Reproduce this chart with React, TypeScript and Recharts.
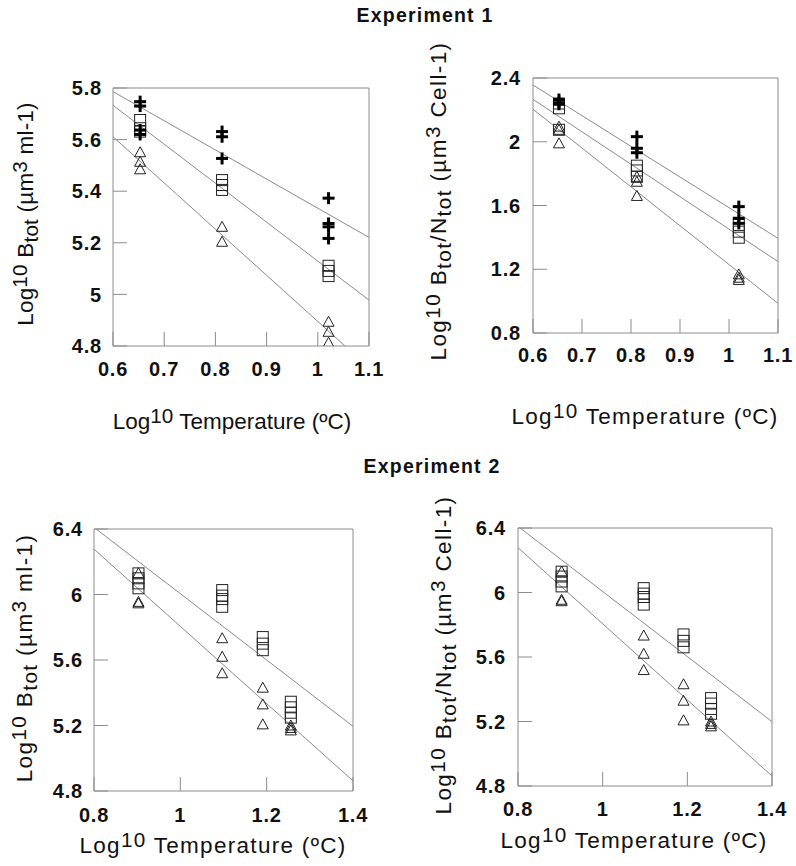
import React from 'react';
import { ScatterChart, Scatter, XAxis, YAxis, ReferenceLine } from 'recharts';

const FONT = '"Liberation Sans", Arial, Helvetica, sans-serif';

// ---------------- DATA ----------------
// Experiment 1 - biomass (log10 Btot)
const exp1BiomassPlus = [
  { x: 0.653, y: 5.747 }, { x: 0.653, y: 5.73 }, { x: 0.653, y: 5.637 }, { x: 0.653, y: 5.62 },
  { x: 0.813, y: 5.631 }, { x: 0.813, y: 5.611 }, { x: 0.813, y: 5.527 },
  { x: 1.021, y: 5.373 }, { x: 1.021, y: 5.275 }, { x: 1.021, y: 5.262 }, { x: 1.021, y: 5.217 },
];
const exp1BiomassSquare = [
  { x: 0.653, y: 5.676 }, { x: 0.653, y: 5.644 }, { x: 0.653, y: 5.631 },
  { x: 0.813, y: 5.443 }, { x: 0.813, y: 5.424 }, { x: 0.813, y: 5.405 },
  { x: 1.021, y: 5.111 }, { x: 1.021, y: 5.091 }, { x: 1.021, y: 5.071 },
];
const exp1BiomassTriangle = [
  { x: 0.653, y: 5.551 }, { x: 0.653, y: 5.514 }, { x: 0.653, y: 5.485 },
  { x: 0.813, y: 5.262 }, { x: 0.813, y: 5.204 },
  { x: 1.021, y: 4.894 }, { x: 1.021, y: 4.855 }, { x: 1.021, y: 4.813 },
];
const exp1BiomassFitStart = [5.786, 5.733, 5.611]; // at x = 0.6
const exp1BiomassFitEnd = [5.221, 4.978, 4.716]; // at x = 1.1

// Experiment 1 - per cell (log10 Btot/Ntot)
const exp1CellPlus = [
  { x: 0.653, y: 2.265 }, { x: 0.653, y: 2.245 }, { x: 0.653, y: 2.235 },
  { x: 0.812, y: 2.032 }, { x: 0.812, y: 1.959 }, { x: 0.812, y: 1.931 },
  { x: 1.02, y: 1.593 }, { x: 1.02, y: 1.52 }, { x: 1.02, y: 1.488 },
];
const exp1CellSquare = [
  { x: 0.653, y: 2.24 }, { x: 0.653, y: 2.21 }, { x: 0.653, y: 2.075 },
  { x: 0.812, y: 1.85 }, { x: 0.812, y: 1.82 }, { x: 0.812, y: 1.78 },
  { x: 1.02, y: 1.478 }, { x: 1.02, y: 1.436 }, { x: 1.02, y: 1.398 },
];
const exp1CellTriangle = [
  { x: 0.653, y: 2.095 }, { x: 0.653, y: 2.075 }, { x: 0.653, y: 1.99 },
  { x: 0.812, y: 1.78 }, { x: 0.812, y: 1.749 }, { x: 0.812, y: 1.66 },
  { x: 1.02, y: 1.168 }, { x: 1.02, y: 1.147 }, { x: 1.02, y: 1.133 },
];
const exp1CellFitStart = [2.356, 2.266, 2.204]; // at x = 0.6
const exp1CellFitEnd = [1.394, 1.248, 0.986]; // at x = 1.1

// Experiment 2 - biomass
const exp2BiomassSquare = [
  { x: 0.903, y: 6.129 }, { x: 0.903, y: 6.099 }, { x: 0.903, y: 6.068 }, { x: 0.903, y: 6.038 },
  { x: 1.097, y: 6.027 }, { x: 1.097, y: 5.993 }, { x: 1.097, y: 5.972 }, { x: 1.097, y: 5.925 },
  { x: 1.191, y: 5.74 }, { x: 1.191, y: 5.7 }, { x: 1.191, y: 5.66 },
  { x: 1.256, y: 5.345 }, { x: 1.256, y: 5.311 }, { x: 1.256, y: 5.278 }, { x: 1.256, y: 5.248 },
];
const exp2BiomassTriangle = [
  { x: 0.903, y: 6.13 }, { x: 0.903, y: 5.955 }, { x: 0.903, y: 5.946 },
  { x: 1.097, y: 5.733 }, { x: 1.097, y: 5.62 }, { x: 1.097, y: 5.519 },
  { x: 1.191, y: 5.431 }, { x: 1.191, y: 5.329 }, { x: 1.191, y: 5.207 },
  { x: 1.256, y: 5.2 }, { x: 1.256, y: 5.185 }, { x: 1.256, y: 5.17 },
];
const exp2BiomassFitStart = [6.41, 6.277]; // at x = 0.8
const exp2BiomassFitEnd = [5.195, 4.862]; // at x = 1.4

// Experiment 2 - per cell
const exp2CellSquare = [
  { x: 0.903, y: 6.129 }, { x: 0.903, y: 6.099 }, { x: 0.903, y: 6.068 }, { x: 0.903, y: 6.038 },
  { x: 1.097, y: 6.027 }, { x: 1.097, y: 5.993 }, { x: 1.097, y: 5.972 }, { x: 1.097, y: 5.925 },
  { x: 1.191, y: 5.74 }, { x: 1.191, y: 5.7 }, { x: 1.191, y: 5.66 },
  { x: 1.256, y: 5.345 }, { x: 1.256, y: 5.311 }, { x: 1.256, y: 5.278 }, { x: 1.256, y: 5.248 },
];
const exp2CellTriangle = [
  { x: 0.903, y: 6.13 }, { x: 0.903, y: 5.955 }, { x: 0.903, y: 5.946 },
  { x: 1.097, y: 5.733 }, { x: 1.097, y: 5.62 }, { x: 1.097, y: 5.519 },
  { x: 1.191, y: 5.431 }, { x: 1.191, y: 5.329 }, { x: 1.191, y: 5.207 },
  { x: 1.256, y: 5.2 }, { x: 1.256, y: 5.185 }, { x: 1.256, y: 5.17 },
];
const exp2CellFitStart = [6.41, 6.278];
const exp2CellFitEnd = [5.199, 4.862];

// Axis ticks
const exp1XTicks = [0.6, 0.7, 0.8, 0.9, 1, 1.1];
const exp1BiomassYTicks = [4.8, 5, 5.2, 5.4, 5.6, 5.8];
const exp1CellYTicks = [0.8, 1.2, 1.6, 2, 2.4];
const exp1CellRightTicks = [1.12, 1.44, 1.76, 2.08];
const exp2XTicks = [0.8, 1, 1.2, 1.4];
const exp2XTopTicks = [0.92, 1.04, 1.16, 1.28];
const exp2YTicks = [4.8, 5.2, 5.6, 6, 6.4];
const exp2RightTicks = [5.12, 5.44, 5.76, 6.08];

// Titles
type Part = { t: string; s?: 'sup' | 'sub' };
const xTitle: Part[] = [{ t: 'Log' }, { t: '10', s: 'sup' }, { t: ' Temperature (ºC)' }];
const yTitleBiomass: Part[] = [
  { t: 'Log' }, { t: '10', s: 'sup' }, { t: ' B' }, { t: 'tot', s: 'sub' },
  { t: ' (µm' }, { t: '3', s: 'sup' }, { t: ' ml-1)' },
];
const yTitleCell: Part[] = [
  { t: 'Log' }, { t: '10', s: 'sup' }, { t: ' B' }, { t: 'tot', s: 'sub' }, { t: '/N' },
  { t: 'tot', s: 'sub' }, { t: ' (µm' }, { t: '3', s: 'sup' }, { t: ' Cell-1)' },
];

// ---------------- SHAPES ----------------
const PlusShape = (p: any) => {
  const { cx, cy } = p;
  return (
    <g>
      <line x1={cx - 6} x2={cx + 6} y1={cy} y2={cy} stroke="#000" strokeWidth={3} />
      <line x1={cx} x2={cx} y1={cy - 6} y2={cy + 6} stroke="#000" strokeWidth={3} />
    </g>
  );
};
const SquareShape = (p: any) => {
  const { cx, cy } = p;
  return <rect x={cx - 5.5} y={cy - 5.5} width={11} height={11} fill="none" stroke="#222" strokeWidth={1} />;
};
const TriangleShape = (p: any) => {
  const { cx, cy } = p;
  return (
    <polygon
      points={`${cx},${cy - 5.5} ${cx + 5.5},${cy + 4.5} ${cx - 5.5},${cy + 4.5}`}
      fill="none"
      stroke="#222"
      strokeWidth={1}
    />
  );
};

// ---------------- TITLES ----------------
function TitleText({ x, y, parts, rotate, fontSize, letterSpacing }: any) {
  let cur = 0;
  const spans = parts.map((p: Part, i: number) => {
    const target = p.s === 'sup' ? -6 : p.s === 'sub' ? 5 : 0;
    const dy = target - cur;
    cur = target;
    return (
      <tspan key={i} dy={dy} fontSize={p.s ? fontSize * 0.92 : fontSize}>
        {p.t}
      </tspan>
    );
  });
  return (
    <text
      x={x}
      y={y}
      textAnchor="middle"
      fill="#111"
      fontFamily={FONT}
      fontSize={fontSize}
      letterSpacing={letterSpacing}
      style={{ whiteSpace: 'pre' }}
      transform={rotate ? `rotate(-90 ${x} ${y})` : undefined}
    >
      {spans}
    </text>
  );
}

const AXIS = '#8c8c8c';
const FIT = '#8a8a8a';

function Panel(cfg: any) {
  const {
    ox, oy, width, height, margin, yW, xH, xDomain, yDomain, xTicks, xTopTicks, yTicks, yRightTicks,
    yTickMargin, xTickMargin, series, fitsStart, fitsEnd,
  } = cfg;
  const lineProps = {
    axisLine: { stroke: AXIS, strokeWidth: 1 },
    tickLine: { stroke: AXIS, strokeWidth: 1 },
  };
  const ts = { fill: '#111', fontSize: 20, fontWeight: 700, fontFamily: FONT, letterSpacing: 0.8 };
  return (
    <div style={{ position: 'absolute', left: ox, top: oy, width, height }}>
      <ScatterChart width={width} height={height} margin={margin}>
        <XAxis xAxisId="b" type="number" dataKey="x" orientation="bottom" domain={xDomain} ticks={xTicks}
          allowDataOverflow height={xH} stroke={AXIS} {...lineProps} tickSize={-14} tickMargin={xTickMargin} tick={ts} interval={0} />
        <XAxis xAxisId="t" type="number" dataKey="x" orientation="top" domain={xDomain} ticks={xTopTicks}
          allowDataOverflow height={1} stroke={AXIS} {...lineProps} tickSize={-14} tick={false} interval={0} />
        <YAxis yAxisId="l" type="number" dataKey="y" orientation="left" domain={yDomain} ticks={yTicks}
          allowDataOverflow width={yW} stroke={AXIS} {...lineProps} tickSize={-14} tickMargin={yTickMargin} tick={ts} interval={0} />
        <YAxis yAxisId="r" type="number" dataKey="y" orientation="right" domain={yDomain} ticks={yRightTicks}
          allowDataOverflow width={1} stroke={AXIS} {...lineProps} tickSize={-14} tick={false} interval={0} />
        {fitsStart.map((s: number, i: number) => (
          <ReferenceLine
            key={'f' + i}
            xAxisId="b"
            yAxisId="l"
            segment={[{ x: xDomain[0], y: s }, { x: xDomain[1], y: fitsEnd[i] }]}
            ifOverflow="hidden"
            stroke={FIT}
            strokeWidth={1}
          />
        ))}
        {series.map((s: any, i: number) => (
          <Scatter key={'s' + i} xAxisId="b" yAxisId="l" data={s.data} shape={s.shape} isAnimationActive={false} />
        ))}
      </ScatterChart>
    </div>
  );
}

const titleStyle = (cx: number, baseline: number): React.CSSProperties => ({
  position: 'absolute',
  left: cx - 150,
  top: baseline - 18,
  width: 300,
  textAlign: 'center',
  fontFamily: FONT,
  fontWeight: 700,
  fontSize: 19.5,
  letterSpacing: 1.2,
  lineHeight: '22px',
  color: '#111',
});

export default function App() {
  return (
    <div style={{ position: 'absolute', left: 0, top: 0, width: 796, height: 866, overflow: 'hidden' }}>
      <div style={titleStyle(425, 22)}>Experiment 1</div>
      <div style={titleStyle(432, 473)}>Experiment 2</div>
      <Panel
        ox={0} oy={40} width={400} height={400}
        margin={{ top: 47, right: 30, bottom: 0, left: 0 }}
        yW={113} xH={94}
        xDomain={[0.6, 1.1]} yDomain={[4.8, 5.8]}
        xTicks={exp1XTicks} xTopTicks={exp1XTicks}
        yTicks={exp1BiomassYTicks} yRightTicks={exp1BiomassYTicks}
        yTickMargin={25} xTickMargin={30}
        series={[
          { data: exp1BiomassTriangle, shape: TriangleShape },
          { data: exp1BiomassSquare, shape: SquareShape },
          { data: exp1BiomassPlus, shape: PlusShape },
        ]}
        fitsStart={exp1BiomassFitStart} fitsEnd={exp1BiomassFitEnd}
      />
      <Panel
        ox={400} oy={40} width={396} height={400}
        margin={{ top: 37, right: 17, bottom: 0, left: 0 }}
        yW={133} xH={107}
        xDomain={[0.6, 1.1]} yDomain={[0.8, 2.4]}
        xTicks={exp1XTicks} xTopTicks={exp1XTicks}
        yTicks={exp1CellYTicks} yRightTicks={exp1CellRightTicks}
        yTickMargin={26} xTickMargin={29}
        series={[
          { data: exp1CellTriangle, shape: TriangleShape },
          { data: exp1CellSquare, shape: SquareShape },
          { data: exp1CellPlus, shape: PlusShape },
        ]}
        fitsStart={exp1CellFitStart} fitsEnd={exp1CellFitEnd}
      />
      <Panel
        ox={0} oy={460} width={400} height={406}
        margin={{ top: 68, right: 46, bottom: 0, left: 0 }}
        yW={94} xH={75}
        xDomain={[0.8, 1.4]} yDomain={[4.8, 6.4]}
        xTicks={exp2XTicks} xTopTicks={exp2XTopTicks}
        yTicks={exp2YTicks} yRightTicks={exp2RightTicks}
        yTickMargin={25} xTickMargin={31}
        series={[
          { data: exp2BiomassTriangle, shape: TriangleShape },
          { data: exp2BiomassSquare, shape: SquareShape },
        ]}
        fitsStart={exp2BiomassFitStart} fitsEnd={exp2BiomassFitEnd}
      />
      <Panel
        ox={400} oy={460} width={396} height={406}
        margin={{ top: 67, right: 23, bottom: 0, left: 0 }}
        yW={118} xH={80}
        xDomain={[0.8, 1.4]} yDomain={[4.8, 6.4]}
        xTicks={exp2XTicks} xTopTicks={exp2XTopTicks}
        yTicks={exp2YTicks} yRightTicks={exp2RightTicks}
        yTickMargin={26} xTickMargin={30}
        series={[
          { data: exp2CellTriangle, shape: TriangleShape },
          { data: exp2CellSquare, shape: SquareShape },
        ]}
        fitsStart={exp2CellFitStart} fitsEnd={exp2CellFitEnd}
      />
      <svg width={796} height={866} style={{ position: 'absolute', left: 0, top: 0, pointerEvents: 'none' }}>
        <TitleText x={232} y={429} parts={xTitle} fontSize={22.5} letterSpacing={0} />
        <TitleText x={645} y={424} parts={xTitle} fontSize={22.5} letterSpacing={1.3} />
        <TitleText x={213} y={853} parts={xTitle} fontSize={22.5} letterSpacing={1.3} />
        <TitleText x={634} y={848} parts={xTitle} fontSize={22.5} letterSpacing={1.3} />
        <TitleText x={33} y={214} parts={yTitleBiomass} fontSize={22.5} letterSpacing={0.2} rotate />
        <TitleText x={446} y={201} parts={yTitleCell} fontSize={22.5} letterSpacing={1.4} rotate />
        <TitleText x={32} y={658} parts={yTitleBiomass} fontSize={22.5} letterSpacing={1.4} rotate />
        <TitleText x={451} y={655} parts={yTitleCell} fontSize={22.5} letterSpacing={1.4} rotate />
      </svg>
    </div>
  );
}
